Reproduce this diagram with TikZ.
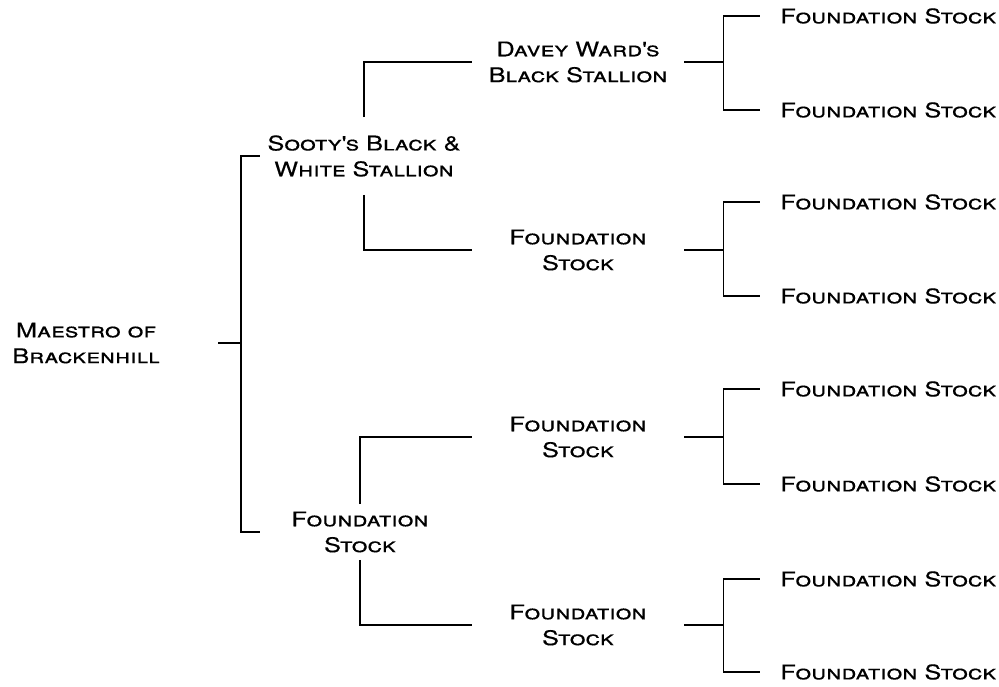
\documentclass[tikz,border=0pt]{standalone}
\usepackage{fontspec}
\setmainfont{TeX Gyre Heros}[FakeStretch=1.25, FakeBold=0.3]
\usepackage{tikz}
\usetikzlibrary{positioning,calc}
\tikzset{horse/.style={align=center, font=\fontsize{11.5}{14.7}\selectfont\scshape},
  leaf/.style={horse, anchor=west, inner sep=0pt},
  link/.style={line width=0.75pt}}
\newcommand{\pedhorse}[4] {\node at (#1) (#2) [horse, #3] {#4};}
\newcommand{\pedleaf}[2] {\node at (780,#1) (#2) [leaf] {Foundation Stock};}
\newcommand{\pedfork}[4] {\coordinate (#2) at ($(#1.east)+(39,0)$);
  \draw [link] (#1.east) -- (#2);
  \draw [link, shorten >=0.4cm] (#2) |- (#3.west);
  \draw [link, shorten >=0.4cm] (#2) |- (#4.west);}

\begin{document}
\begin{tikzpicture}[x=0.02cm, y=-0.02cm]
\useasboundingbox (0,0) rectangle (999,686);

\pedhorse {86,343}{maestro}{}{Maestro of\\Brackenhill}
\pedhorse {364,156}{sooty}{minimum height=1.54cm, minimum width=4.16cm}{Sooty\textquotesingle s Black \&\\White Stallion}
\pedhorse {360,532}{base}{minimum height=1.1cm, minimum width=4cm}{Foundation\\Stock}

\pedhorse {578,62}{davey}{minimum width=4.24cm}{Davey Ward\textquotesingle s\\Black Stallion}
\pedhorse {578,250}{fsa}{minimum width=4.24cm}{Foundation\\Stock}
\pedhorse {578,437}{fsb}{minimum width=4.24cm}{Foundation\\Stock}
\pedhorse {578,625}{fsc}{minimum width=4.24cm}{Foundation\\Stock}

\pedleaf {16}{leafa}
\pedleaf {110}{leafb}
\pedleaf {202}{leafc}
\pedleaf {296}{leafd}
\pedleaf {389}{leafe}
\pedleaf {484}{leaff}
\pedleaf {579}{leafg}
\pedleaf {672}{leafh}

% root bracket
\coordinate (jroot) at (241,343);
\draw [link, shorten <=1.05cm] (maestro.east) -- (jroot);
\draw [link] (jroot) |- (sooty.west);
\draw [link] (jroot) |- (base.west);

\draw [link] (sooty.north) |- (davey.west);
\draw [link] (sooty.south) |- (fsa.west);
\draw [link] (base.north) |- (fsb.west);
\draw [link] (base.south) |- (fsc.west);

\pedfork {davey}{jdavey}{leafa}{leafb}
\pedfork {fsa}{jfsa}{leafc}{leafd}
\pedfork {fsb}{jfsb}{leafe}{leaff}
\pedfork {fsc}{jfsc}{leafg}{leafh}

\end{tikzpicture}
\end{document}
